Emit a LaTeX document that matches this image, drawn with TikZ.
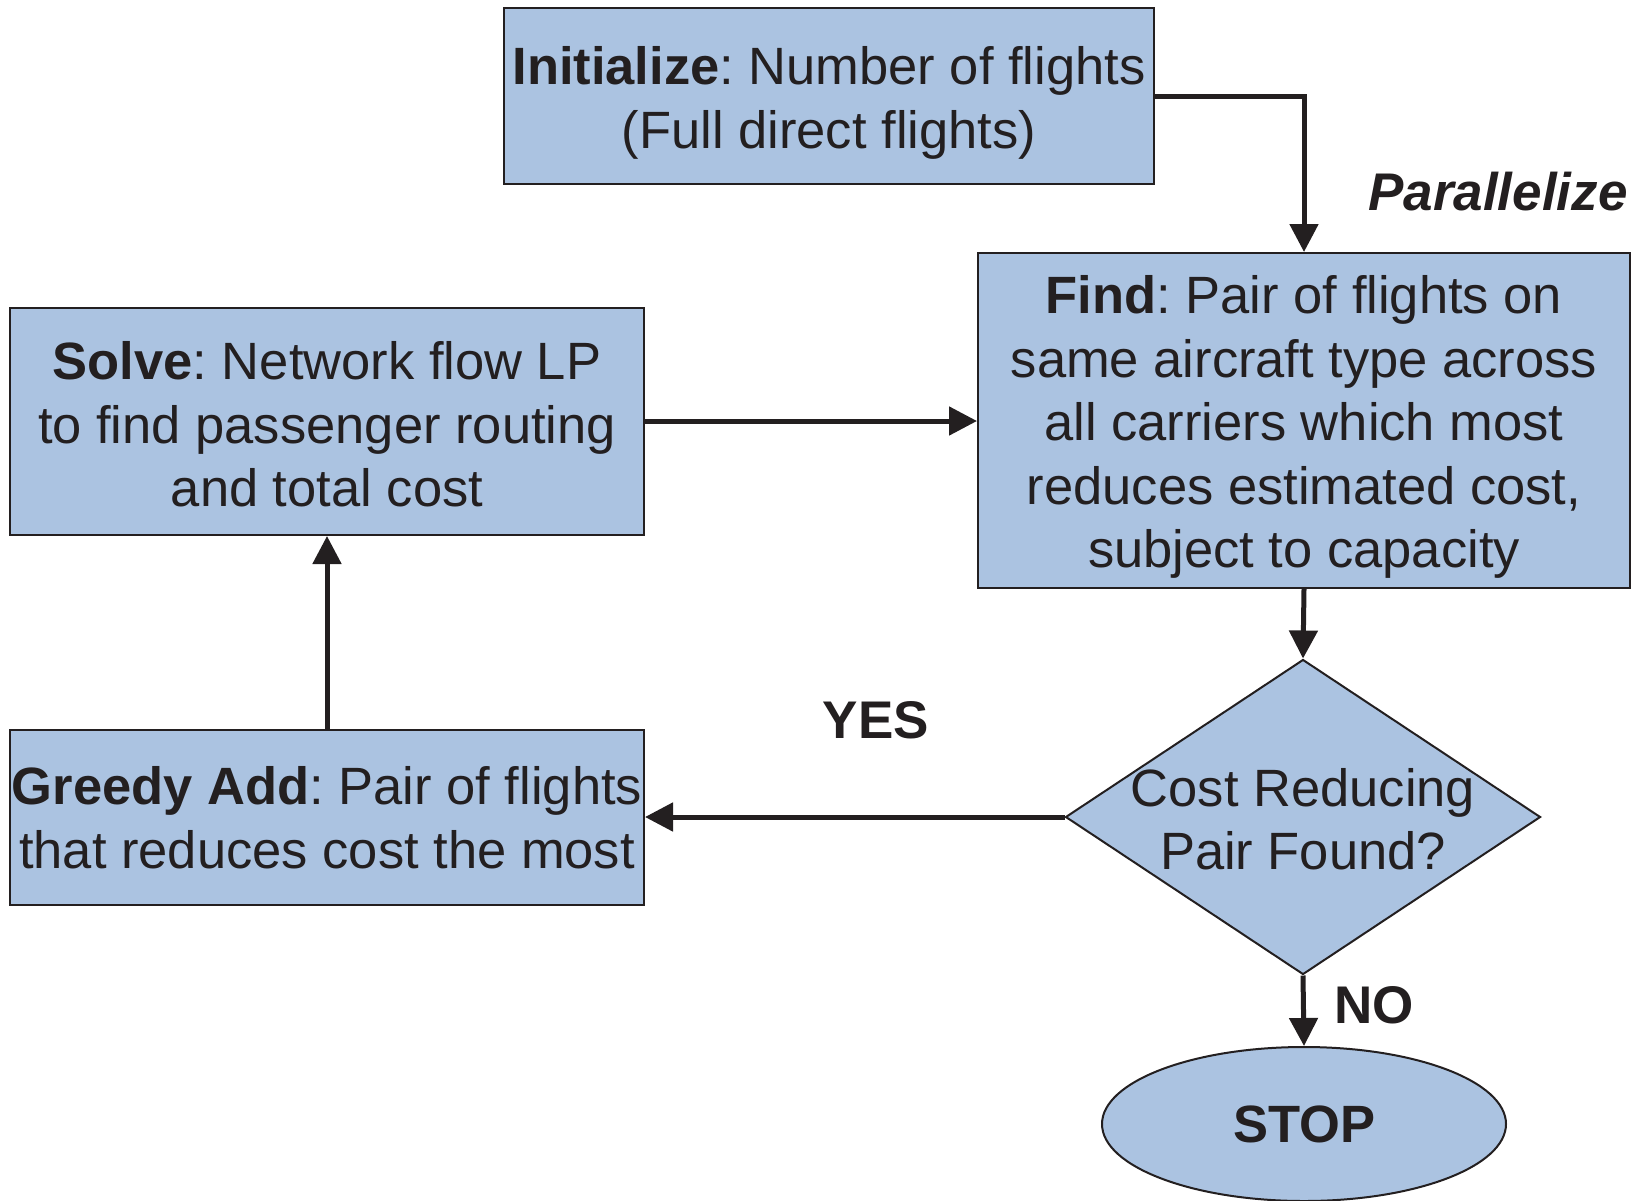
\documentclass[tikz,border=0pt]{standalone}
\usepackage{fontspec}
\setmainfont{Liberation Sans}
\usetikzlibrary{arrows.meta,shapes.geometric}
\definecolor{boxblue}{RGB}{171,195,225}
\definecolor{ink}{RGB}{35,31,32}
\frenchspacing
\begin{document}
\begin{tikzpicture}[x=1pt,y=-1pt,
  every node/.style={text=ink},
  txt/.style={font=\fontsize{52.5}{63.5}\selectfont},
  procbox/.style={draw=ink,line width=2pt,fill=boxblue,rectangle,align=center,inner sep=0pt,txt},
  conn/.style={draw=ink,line width=5pt,-{Triangle[length=28pt,width=28pt]}},
  lbl/.style={font=\fontsize{53}{60}\selectfont\bfseries}]
\useasboundingbox (0,0) rectangle (1635,1200);
\node[procbox,minimum width=650pt,minimum height=176pt] (init) at (829,96) {};
\node[txt,align=center] (initt) at (829,103)
  {\textbf{Initialize}: Number of flights\\(Full direct flights)};
\node[procbox,minimum width=652pt,minimum height=335pt] (find) at (1304,420.5) {};
\node[txt,align=center] (findt) at (1304,427)
  {\textbf{Find}: Pair of flights on\\same aircraft type across\\all carriers which most\\reduces estimated cost,\\subject to capacity};
\node[procbox,minimum width=634pt,minimum height=227pt] (solve) at (327,421.5) {};
\node[txt,align=center] (solvet) at (327,424.5)
  {\textbf{Solve}: Network flow LP\\to find passenger routing\\and total cost};
\node[procbox,minimum width=634pt,minimum height=175pt] (greedy) at (327,817.5)
  {\textbf{Greedy Add}: Pair of flights\\that reduces cost the most};
\node[procbox,diamond,shape aspect=1.508,minimum width=475pt,minimum height=315pt] (dec) at (1303,817)
  {};
\node[txt,align=center] (dect) at (1303,819) {Cost Reducing\\Pair Found?};
\node[procbox,ellipse,minimum width=404pt,minimum height=154pt] (stop) at (1304,1124)
  {\textbf{STOP}};
\node[lbl,font=\fontsize{53}{60}\selectfont\bfseries\itshape,anchor=east] (par) at (1631,192) {Parallelize};
\node[lbl] (yes) at (876,720) {YES};
\node[lbl] (no) at (1374,1005) {NO};
\draw[conn] (init.east |- 0,96) -| (find.north);
\draw[conn] (solve.east |- 0,421) -- (find.west |- 0,421);
\draw[conn] (find.south) -- (dec.north);
\draw[conn] (dec.west) -- (greedy.east |- dec.west);
\draw[conn] (greedy.north) -- (solve.south);
\draw[conn] (dec.south) -- (stop.north);
\end{tikzpicture}
\end{document}
